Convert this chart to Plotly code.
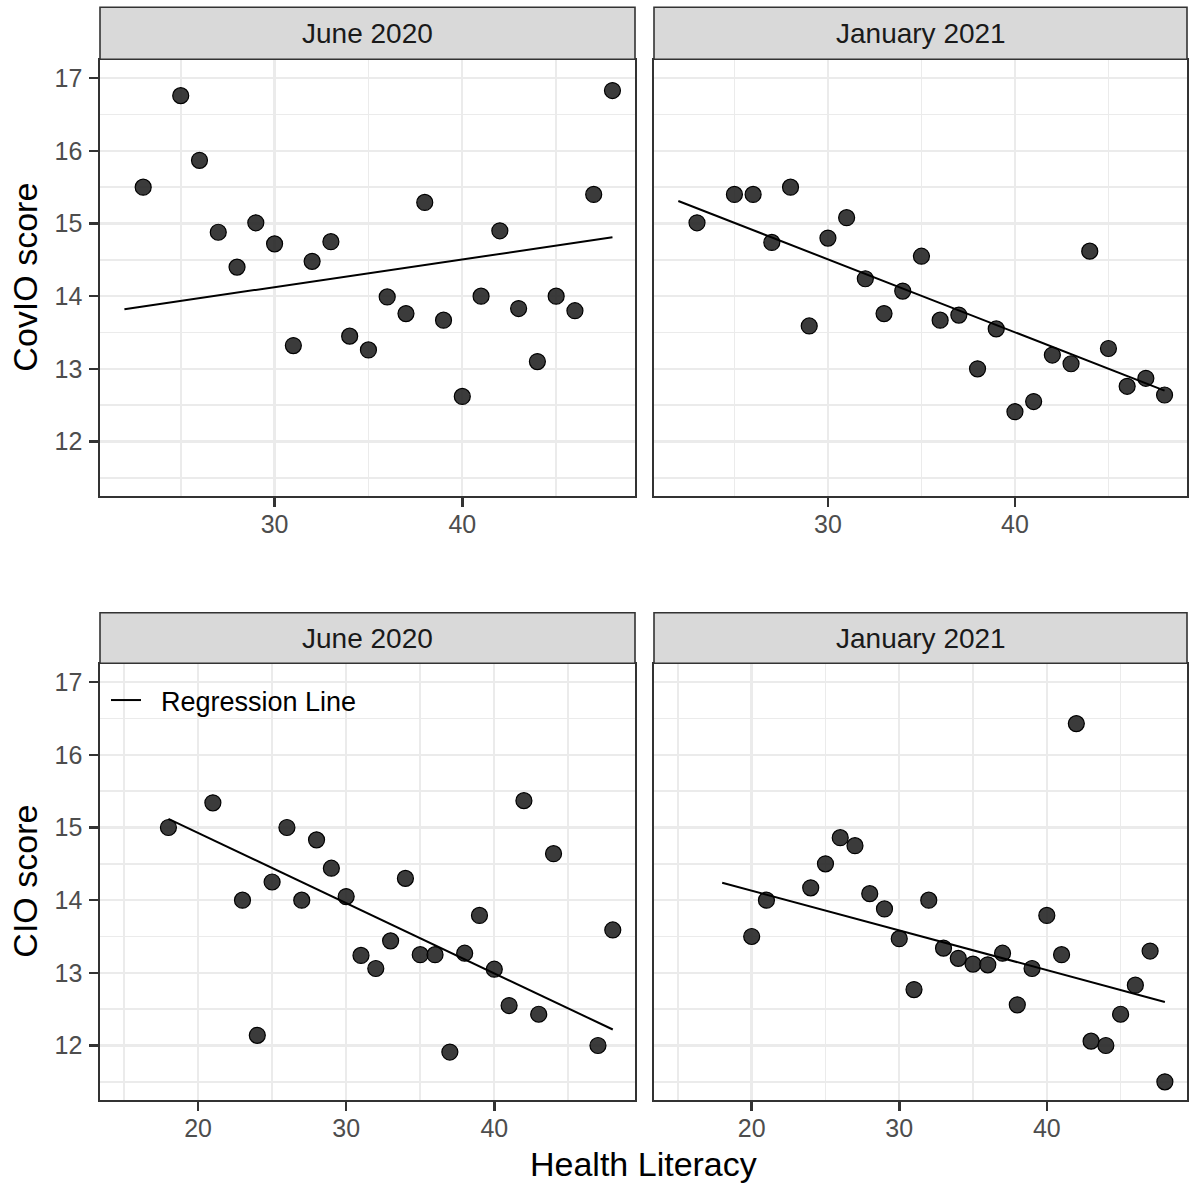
import plotly.graph_objects as go

# ---------------- data ----------------
panel_titles = ["June 2020", "January 2021"]
row_titles = ["CovIO score", "CIO score"]
x_title = "Health Literacy"
legend_label = "\u00a0\u00a0Regression Line"

# Top row: CovIO score
covio_june_x = [23, 25, 26, 27, 28, 29, 30, 31, 32, 33, 34, 35, 36, 37, 38, 39, 40, 41, 42, 43, 44, 45, 46, 47, 48]
covio_june_y = [15.50, 16.76, 15.87, 14.88, 14.40, 15.01, 14.72, 13.32, 14.48, 14.75, 13.45, 13.26, 13.99,
                13.76, 15.29, 13.67, 12.62, 14.00, 14.90, 13.83, 13.10, 14.00, 13.80, 15.40, 16.83]
covio_jan_x = [23, 25, 26, 27, 28, 29, 30, 31, 32, 33, 34, 35, 36, 37, 38, 39, 40, 41, 42, 43, 44, 45, 46, 47, 48]
covio_jan_y = [15.01, 15.40, 15.40, 14.74, 15.50, 13.59, 14.80, 15.08, 14.24, 13.76, 14.07, 14.55, 13.67,
               13.74, 13.00, 13.55, 12.41, 12.55, 13.19, 13.07, 14.62, 13.28, 12.76, 12.87, 12.64]

# Bottom row: CIO score
cio_june_x = [18, 21, 23, 24, 25, 26, 27, 28, 29, 30, 31, 32, 33, 34, 35, 36, 37, 38, 39, 40, 41, 42, 43, 44, 47, 48]
cio_june_y = [15.00, 15.34, 14.00, 12.14, 14.25, 15.00, 14.00, 14.83, 14.44, 14.05, 13.24, 13.06, 13.44,
              14.30, 13.25, 13.25, 11.91, 13.27, 13.79, 13.05, 12.55, 15.37, 12.43, 14.64, 12.00, 13.59]
cio_jan_x = [20, 21, 24, 25, 26, 27, 28, 29, 30, 31, 32, 33, 34, 35, 36, 37, 38, 39, 40, 41, 42, 43, 44, 45, 46, 47, 48]
cio_jan_y = [13.50, 14.00, 14.17, 14.50, 14.86, 14.75, 14.09, 13.88, 13.47, 12.77, 14.00, 13.34, 13.20,
             13.12, 13.11, 13.27, 12.56, 13.06, 13.79, 13.25, 16.43, 12.06, 12.00, 12.43, 12.83, 13.30, 11.50]

# Regression line end points
reg_top_x = [22, 48]
reg_covio_june_y = [13.82, 14.81]
reg_covio_jan_y = [15.31, 12.70]
reg_bottom_x = [18, 48]
reg_cio_june_y = [15.12, 12.22]
reg_cio_jan_y = [14.24, 12.60]

x_ticks_top = [30, 40]
x_ticks_bottom = [20, 30, 40]
y_ticks = [12, 13, 14, 15, 16, 17]

# ---------------- layout geometry ----------------
W, H = 1189, 1191
FONT = "Liberation Sans, Arial, Helvetica, sans-serif"

def px_x(p):
    return p / W

def px_y(p):
    return 1 - p / H

col_dom = [[px_x(100), px_x(635)], [px_x(654), px_x(1187)]]
row_plot = [[px_y(496), px_y(59.3)], [px_y(1100), px_y(663.3)]]
row_strip = [[px_y(59.3), px_y(7.3)], [px_y(663.3), px_y(612.7)]]

fig = go.Figure()

panels = [
    (0, 0, covio_june_x, covio_june_y, reg_top_x, reg_covio_june_y),
    (0, 1, covio_jan_x, covio_jan_y, reg_top_x, reg_covio_jan_y),
    (1, 0, cio_june_x, cio_june_y, reg_bottom_x, reg_cio_june_y),
    (1, 1, cio_jan_x, cio_jan_y, reg_bottom_x, reg_cio_jan_y),
]

x_ranges = [[20.7, 49.2], [13.38, 49.5]]
y_range = [11.25, 17.26]

GRID = "#EBEBEB"
DARK = "#333333"
TICKTXT = "#4D4D4D"

for i, (r, c, xs, ys, rx, ry) in enumerate(panels):
    n = i + 1
    xa = "x" if n == 1 else f"x{n}"
    ya = "y" if n == 1 else f"y{n}"
    fig.add_trace(go.Scatter(
        x=xs, y=ys, mode="markers", xaxis=xa, yaxis=ya, showlegend=False,
        marker=dict(size=16, color="rgba(38,38,38,0.9)", line=dict(color="black", width=1.2)),
        hoverinfo="skip"))
    fig.add_trace(go.Scatter(
        x=rx, y=ry, mode="lines", xaxis=xa, yaxis=ya,
        name=legend_label, showlegend=(n == 3),
        line=dict(color="black", width=2), hoverinfo="skip"))

    xkey = "xaxis" if n == 1 else f"xaxis{n}"
    ykey = "yaxis" if n == 1 else f"yaxis{n}"
    xt = x_ticks_top if r == 0 else x_ticks_bottom
    fig.layout[xkey] = dict(
        domain=col_dom[c], anchor=ya, range=x_ranges[r],
        tickmode="array", tickvals=xt,
        showgrid=True, gridcolor=GRID, gridwidth=2.4,
        minor=dict(tickmode="linear", tick0=0, dtick=5, showgrid=True, gridcolor=GRID, gridwidth=1.8, ticklen=0),
        showline=True, linecolor=DARK, linewidth=1.6, mirror=True,
        ticks="outside", ticklen=9, tickwidth=2.5, tickcolor=DARK,
        tickfont=dict(family=FONT, size=25, color=TICKTXT),
        ticklabelstandoff=-4, zeroline=False)
    fig.layout[ykey] = dict(
        domain=row_plot[r], anchor=xa, range=y_range,
        tickmode="array", tickvals=y_ticks,
        showgrid=True, gridcolor=GRID, gridwidth=2.4,
        minor=dict(tickmode="linear", tick0=0, dtick=0.5, showgrid=True, gridcolor=GRID, gridwidth=1.8, ticklen=0),
        showline=True, linecolor=DARK, linewidth=1.6, mirror=True,
        ticks="outside" if c == 0 else "", ticklen=9, tickwidth=2.5, tickcolor=DARK,
        showticklabels=(c == 0),
        tickfont=dict(family=FONT, size=25, color=TICKTXT),
        ticklabelstandoff=2, zeroline=False)

shapes = []
annotations = []
for r in range(2):
    for c in range(2):
        shapes.append(dict(type="rect", xref="paper", yref="paper",
                           x0=col_dom[c][0], x1=col_dom[c][1], y0=row_strip[r][0], y1=row_strip[r][1],
                           fillcolor="#D9D9D9", line=dict(color=DARK, width=1.6), layer="above"))
        annotations.append(dict(xref="paper", yref="paper",
                                x=(col_dom[c][0] + col_dom[c][1]) / 2,
                                y=(row_strip[r][0] + row_strip[r][1]) / 2,
                                text=panel_titles[c], showarrow=False,
                                font=dict(family=FONT, size=28, color="#1A1A1A"),
                                xanchor="center", yanchor="middle"))

for r in range(2):
    annotations.append(dict(xref="paper", yref="paper", x=px_x(25),
                            y=(row_plot[r][0] + row_plot[r][1]) / 2,
                            text=row_titles[r], textangle=-90, showarrow=False,
                            font=dict(family=FONT, size=34, color="black"),
                            xanchor="center", yanchor="middle"))

annotations.append(dict(xref="paper", yref="paper", x=px_x(644), y=px_y(1164),
                        text=x_title, showarrow=False,
                        font=dict(family=FONT, size=34, color="black"),
                        xanchor="center", yanchor="middle"))

fig.update_layout(
    width=W, height=H,
    margin=dict(l=0, r=0, t=0, b=0),
    paper_bgcolor="white", plot_bgcolor="white",
    shapes=shapes, annotations=annotations,
    legend=dict(x=px_x(106), y=px_y(676), xanchor="left", yanchor="top",
                bgcolor="rgba(255,255,255,0)", font=dict(family=FONT, size=27, color="black"),
                itemwidth=30),
    showlegend=True,
)

fig.write_html("out.html", config={"displayModeBar": False, "staticPlot": True})

# remove the browser's default page margin so the figure sits at the window origin
with open("out.html", "r", encoding="utf-8") as f:
    html = f.read()
html = html.replace("<head>", "<head><style>html,body{margin:0;padding:0;overflow:hidden;}</style>", 1)
with open("out.html", "w", encoding="utf-8") as f:
    f.write(html)
